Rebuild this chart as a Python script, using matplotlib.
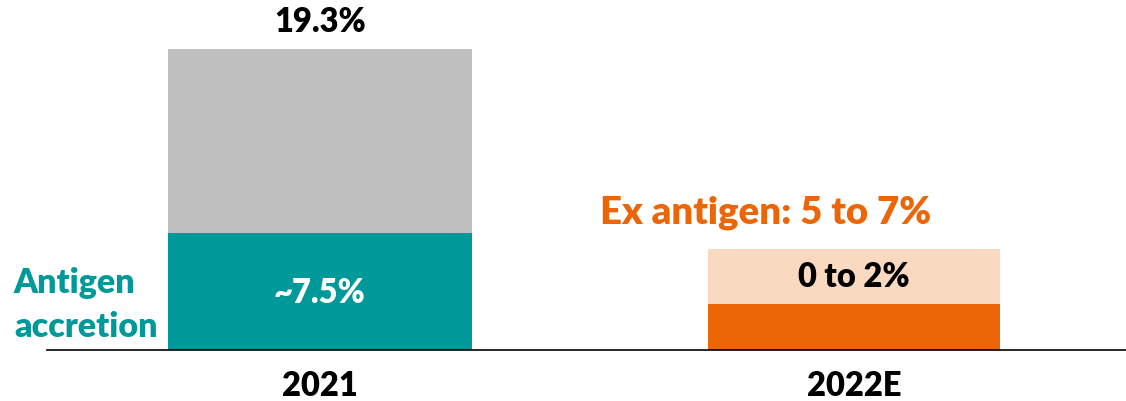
import numpy as np
import matplotlib.pyplot as plt

years = ["2021", "2022E"]
antigen = [7.5, 0.0]
other_2021 = [11.8, 0.0]
base_2022 = [0.0, 2.95]
range_2022 = [0.0, 3.55]
total_2021 = 19.3

teal = "#009999"
gray = "#BFBFBF"
orange = "#EC6608"
light_orange = "#FAD9C1"

plt.rcParams['font.family'] = ['Lato', 'DejaVu Sans']
wt = 'heavy'

fig = plt.figure(figsize=(11.26, 4.02), dpi=100)
ax = fig.add_axes([47/1126, 51/402, 1079/1126, 301/402])

x = np.arange(len(years))
widths = [0.569, 0.547]

ax.bar(x[0], antigen[0], width=widths[0], color=teal)
ax.bar(x[0], other_2021[0], bottom=antigen[0], width=widths[0], color=gray)
ax.bar(x[1], base_2022[1], width=widths[1], color=orange)
ax.bar(x[1], range_2022[1], bottom=base_2022[1], width=widths[1], color=light_orange)

ax.set_xlim(-0.511, 1.509)
ax.set_ylim(0, total_2021)

ax.text(x[0], total_2021 + 1.8, "19.3%", ha='center', va='center',
        fontsize=23.5, fontweight=wt, color='black', clip_on=False)
ax.text(x[0], antigen[0] / 2, "~7.5%", ha='center', va='center',
        fontsize=23.5, fontweight=wt, color='white')
ax.text(x[1], base_2022[1] + range_2022[1] / 2, "0 to 2%", ha='center', va='center',
        fontsize=23.5, fontweight=wt, color='black')
ax.text(x[1] - 0.475, 8.85, "Ex antigen: 5 to 7%", ha='left', va='center',
        fontsize=27.5, fontweight=wt, color=orange)
ax.text(-0.573, 4.36, "Antigen", ha='left', va='center',
        fontsize=24.5, fontweight=wt, color=teal, clip_on=False)
ax.text(-0.573, 1.54, "accretion", ha='left', va='center',
        fontsize=24.5, fontweight=wt, color=teal, clip_on=False)

ax.set_xticks(x)
ax.set_xticklabels(years, fontsize=23.5, fontweight=wt)
ax.tick_params(axis='x', length=0, pad=14)
ax.set_yticks([])
for s in ["top", "right", "left"]:
    ax.spines[s].set_visible(False)
ax.spines["bottom"].set_linewidth(1.2)

fig.savefig("out.png", dpi=100)
